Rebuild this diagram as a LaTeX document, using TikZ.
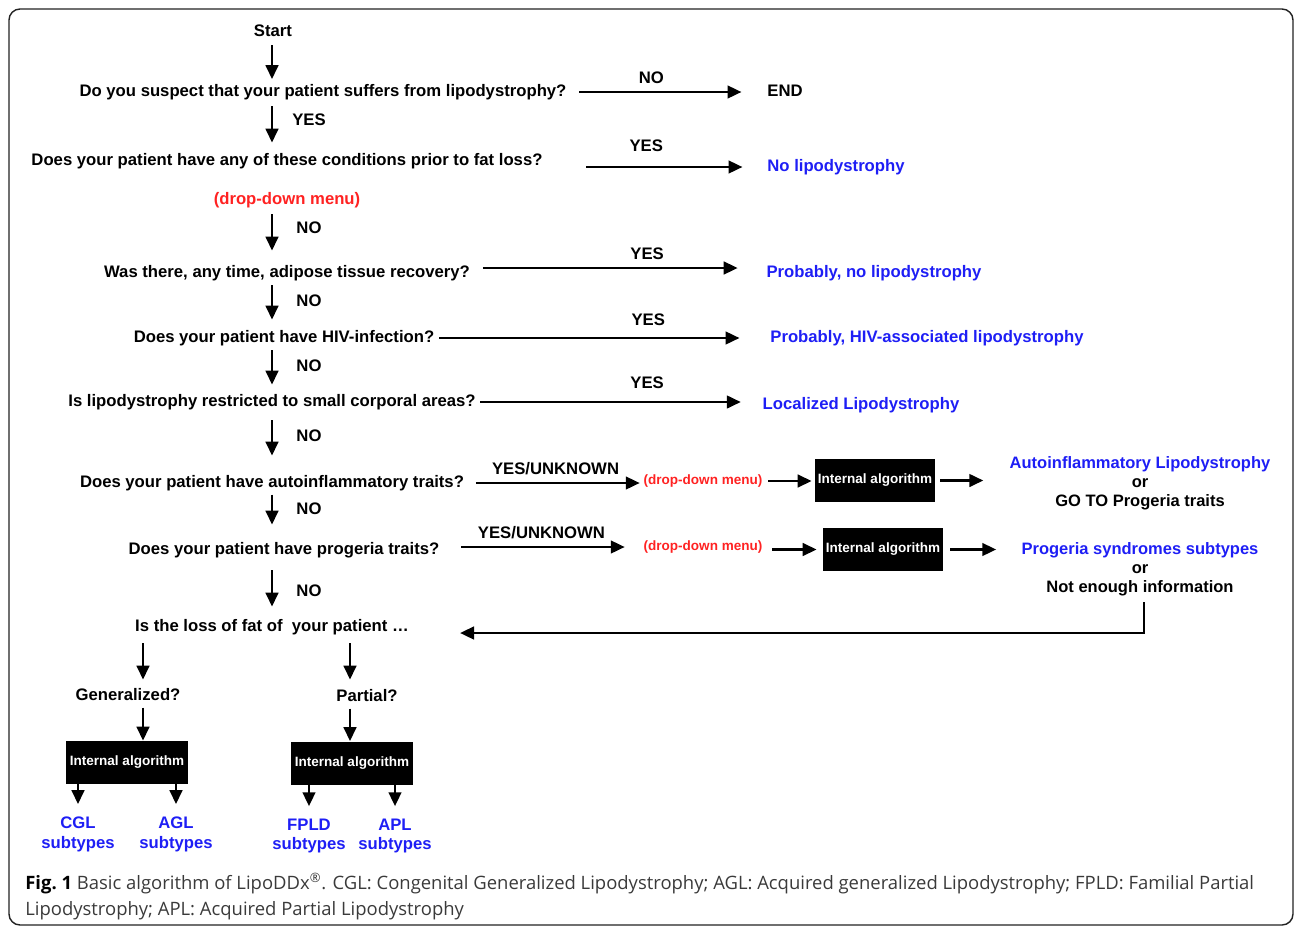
\documentclass[tikz,border=0pt]{standalone}
\usepackage{fontspec}
\setmainfont{Liberation Sans}
\newfontfamily\figcapfont{Open Sans}
\usepackage{tikz}
\usetikzlibrary{arrows.meta,calc}
\definecolor{lresult}{HTML}{1E1EF5}
\definecolor{lmenu}{HTML}{FF2222}
\definecolor{lframe}{HTML}{222222}
\definecolor{lcaptext}{HTML}{3A3A3A}
\tikzset{lq/.style={font=\bfseries\fontsize{9.5}{11}\selectfont, inner sep=2pt, text height=0.24cm, text depth=0.07cm}}
\tikzset{lres/.style={lq, text=lresult}}
\tikzset{lmulti/.style={font=\bfseries\fontsize{9.4}{10.8}\selectfont, inner sep=2pt, align=center}}
\tikzset{lsub/.style={font=\bfseries\fontsize{9.5}{11.3}\selectfont, inner sep=2pt, align=center, text=lresult}}
\tikzset{lmenubig/.style={lq, text=lmenu}}
\tikzset{lmenusmall/.style={font=\bfseries\fontsize{7.7}{9}\selectfont, inner sep=2pt, text=lmenu}}
\tikzset{lalgo/.style={rectangle, fill=black, text=white, font=\bfseries\fontsize{7.7}{9}\selectfont, minimum width=2.4cm, minimum height=0.86cm, inner sep=1pt}}
\tikzset{ledge/.style={-{Triangle[length=0.28cm, width=0.25cm]}, line width=1.6pt}}
\tikzset{llabel/.style={lq}}
\tikzset{lcaption/.style={font=\figcapfont\fontsize{10.5}{14.7}\selectfont, text=lcaptext, align=left, inner sep=0pt}}

\begin{document}
\begin{tikzpicture}[x=0.02cm, y=-0.02cm]
  \useasboundingbox (0,0) rectangle (1295,927);
  \draw[lframe, line width=0.8pt, rounded corners=0.22cm] (9,9) rectangle (1293,925);
  \coordinate (spine) at (272,0);
  \coordinate (gencol) at (143,0);
  \coordinate (parcol) at (350,0);

  \node[lq] (start) at (273,32) {Start};
  \node[lq] (q1) at (323,92) {Do you suspect that your patient suffers from lipodystrophy?};
  \node[lq] (endn) at (785,92) {END};
  \node[lq] (q2) at (287,161) {Does your patient have any of these conditions prior to fat loss?};
  \node[lres] (nolipo) at (836,167) {No lipodystrophy};
  \node[lmenubig] (menu0) at (287,200) {(drop-down menu)};
  \node[lq] (q3) at (287,273) {Was there, any time, adipose tissue recovery?};
  \node[lres] (probno) at (874,273) {Probably, no lipodystrophy};
  \node[lq] (q4) at (284,338) {Does your patient have HIV-infection?};
  \node[lres] (hiv) at (927,338) {Probably, HIV-associated lipodystrophy};
  \node[lq] (q5) at (272,402) {Is lipodystrophy restricted to small corporal areas?};
  \node[lres] (local) at (861,405) {Localized Lipodystrophy};
  \node[lq] (q6) at (272,483) {Does your patient have autoinflammatory traits?};
  \node[lmenusmall] (menu1) at (703,481) {(drop-down menu)};
  \node[lalgo] (algo1) at (875,480.5) {Internal algorithm};
  \node[lmulti] (autoinf) at (1140,483) {\textcolor{lresult}{Autoinflammatory Lipodystrophy}\\or\\GO TO Progeria traits};
  \node[lq] (q7) at (284,550) {Does your patient have progeria traits?};
  \node[lmenusmall] (menu2) at (703,547) {(drop-down menu)};
  \node[lalgo] (algo2) at (883,549.5) {Internal algorithm};
  \node[lmulti] (progeria) at (1140,569) {\textcolor{lresult}{Progeria syndromes subtypes}\\or\\Not enough information};
  \node[lq] (q8) at (272,627) {Is the loss of fat of\ \ your patient \dots};
  \coordinate (back) at (460,633);
  \node[lq] (gen) at (128,696) {Generalized?};
  \node[lq] (par) at (367,697) {Partial?};
  \node[lalgo, minimum width=2.44cm] (algo3) at (127,762.5) {Internal algorithm};
  \node[lalgo, minimum width=2.44cm] (algo4) at (352,763) {Internal algorithm};
  \node[lsub] (cgl) at (78,834) {CGL\\subtypes};
  \node[lsub] (agl) at (176,834) {AGL\\subtypes};
  \node[lsub] (fpld) at (309,836) {FPLD\\subtypes};
  \node[lsub] (apl) at (395,836) {APL\\subtypes};

  \draw[ledge, shorten <=0.035cm, shorten >=0.025cm] (start.south -| spine) -- (q1.north -| spine);
  \draw[ledge, shorten <=0.055cm, shorten >=0.135cm] (q1.south -| spine) -- (q2.north -| spine) node[llabel, midway, xshift=0.74cm, yshift=0.11cm] {YES};
  \draw[ledge, shorten <=0.055cm, shorten >=0.215cm] (menu0.south -| spine) -- (q3.north -| spine) node[llabel, midway, xshift=0.74cm, yshift=0.15cm] {NO};
  \draw[ledge, shorten <=0.015cm, shorten >=0.135cm] (q3.south -| spine) -- (q4.north -| spine) node[llabel, midway, xshift=0.74cm, yshift=0.07cm] {NO};
  \draw[ledge, shorten <=0.015cm, shorten >=0.115cm] (q4.south -| spine) -- (q5.north -| spine) node[llabel, midway, xshift=0.74cm, yshift=0.06cm] {NO};
  \draw[ledge, shorten <=0.135cm, shorten >=0.315cm] (q5.south -| spine) -- (q6.north -| spine) node[llabel, midway, xshift=0.74cm, yshift=0.11cm] {NO};
  \draw[ledge, shorten >=0.275cm] (q6.south -| spine) -- (q7.north -| spine) node[llabel, midway, xshift=0.74cm, yshift=0.13cm] {NO};
  \draw[ledge, shorten <=0.175cm, shorten >=0.175cm] (q7.south -| spine) -- (q8.north -| spine) node[llabel, midway, xshift=0.74cm, yshift=-0.07cm] {NO};

  \draw[ledge, shorten <=0.18cm, shorten >=0.44cm] (q1.east) -- (endn.west) node[llabel, pos=0.42, above] {NO};
  \draw[ledge, shorten <=0.8cm, shorten >=0.42cm] (q2.east |- nolipo.west) -- (nolipo.west) node[llabel, pos=0.46, above=0.145cm] {YES};
  \draw[ledge, shorten <=0.18cm, shorten >=0.5cm] ([yshift=0.1cm]q3.east) -- ([yshift=0.1cm]probno.west) node[llabel, pos=0.6, above] {YES};
  \draw[ledge, shorten <=0.02cm, shorten >=0.54cm] (q4.east) -- (hiv.west) node[llabel, pos=0.64, above=0.085cm] {YES};
  \draw[ledge, shorten <=0.02cm, shorten >=0.36cm] (q5.east) -- (q5.east -| local.west) node[llabel, pos=0.6, above=0.105cm] {YES};

  \draw[ledge, shorten <=0.16cm] (q6.east) -- (q6.east -| menu1.west) node[llabel, pos=0.51, above] {YES/UNKNOWN};
  \draw[ledge, shorten <=0.04cm, shorten >=0.06cm] (menu1.east) -- (menu1.east -| algo1.west);
  \draw[ledge, shorten <=0.1cm, shorten >=0.45cm] (algo1.east) -- (algo1.east -| autoinf.west);
  \draw[ledge, shorten <=0.36cm, shorten >=0.3cm] (q7.east |- menu2.west) -- (menu2.west) node[llabel, pos=0.5, above] {YES/UNKNOWN};
  \draw[ledge, shorten <=0.12cm, shorten >=0.12cm] (algo2.west -| menu2.east) -- (algo2.west);
  \draw[ledge, shorten <=0.14cm, shorten >=0.43cm] (algo2.east) -- (algo2.east -| progeria.west);
  \draw[ledge, shorten <=0.05cm] ([xshift=0.08cm]progeria.south) |- (back);

  \draw[ledge, shorten <=0.095cm, shorten >=0.095cm] (q8.south -| gencol) -- (gen.north -| gencol);
  \draw[ledge, shorten <=0.095cm, shorten >=0.115cm] (q8.south -| parcol) -- (par.north -| parcol);
  \draw[ledge] (gen.south -| gencol) -- (algo3.north -| gencol);
  \draw[ledge] (par.south -| parcol) -- (algo4.north -| parcol);
  \draw[ledge, shorten >=0.17cm] (algo3.south -| cgl) -- (cgl.north);
  \draw[ledge, shorten >=0.17cm] (algo3.south -| agl) -- (agl.north);
  \draw[ledge, shorten >=0.17cm] (algo4.south -| fpld) -- (fpld.north);
  \draw[ledge, shorten >=0.17cm] (algo4.south -| apl) -- (apl.north);

  \node[lcaption, anchor=north west] (caption) at (25,873) {\textcolor{black}{\textbf{Fig.~1}} Basic algorithm of LipoDDx\textsuperscript{®}. CGL: Congenital Generalized Lipodystrophy; AGL: Acquired generalized Lipodystrophy; FPLD: Familial Partial\\Lipodystrophy; APL: Acquired Partial Lipodystrophy};
\end{tikzpicture}
\end{document}
